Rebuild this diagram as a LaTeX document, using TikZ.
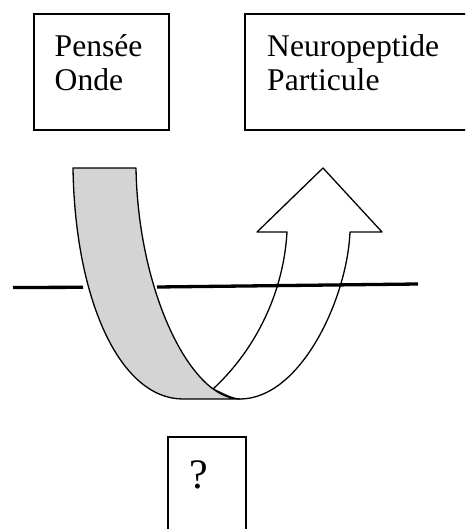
\documentclass[tikz,border=0pt]{standalone}
\usepackage{fontspec}
\setmainfont{Liberation Serif}
\definecolor{bandgray}{RGB}{212,212,212}
\tikzset{
  box/.style={draw=black, line width=1.8pt, fill=none},
  lbl/.style={inner sep=0pt, anchor=base west, font=\fontsize{31.6}{34}\selectfont},
  qlbl/.style={inner sep=0pt, anchor=base west, font=\fontsize{42}{46}\selectfont},
  ribbon/.style={draw=black, line width=1.3pt, line join=round},
  axis/.style={draw=black, line width=3.3pt}
}
\begin{document}
\begin{tikzpicture}[x=1pt,y=-1pt]
\useasboundingbox (0,0) rectangle (465,529);
\clip (0,0) rectangle (465,529);
% boxes
\draw[box] (34,14) rectangle (169,130);
\draw[box] (245,14) rectangle (472,130);
\draw[box] (168,437) rectangle (246,540);
% labels
\node[lbl] (p1) at (54.5,57) {Pensée};
\node[lbl] (p2) at (54.5,91) {Onde};
\node[lbl] (n1) at (267,57) {Neuropeptide};
\node[lbl] (n2) at (267,91) {Particule};
\node[qlbl] (q) at (189,488) {?};
% coordinates of the U-turn arrow
\coordinate (gtl) at (73,168);
\coordinate (gtr) at (136,168);
\coordinate (gbl) at (183,399);
\coordinate (gbr) at (240,399);
\coordinate (wj) at (213,389);
\coordinate (wsi) at (287,232);
\coordinate (wso) at (350,232);
\coordinate (hl) at (257,232);
\coordinate (hr) at (382,232);
\coordinate (tip) at (323,168);
% white arrow
\draw[ribbon, fill=white] (gbr) .. controls (300,399) and (347,300) .. (wso)
  -- (hr) -- (tip) -- (hl) -- (wsi)
  .. controls (283,300) and (250,355) .. (wj)
  .. controls (222,393) and (232,399) .. (gbr) -- cycle;
% horizontal line
\coordinate (a1) at (13,287.5);
\coordinate (a2) at (83,287.3);
\coordinate (a3) at (157,287);
\coordinate (a4) at (418,284);
\draw[axis] (a1) -- (a2);
\draw[axis] (a3) -- (a4);
% gray band
\draw[ribbon, fill=bandgray] (gtl) -- (gtr)
  .. controls (138,290) and (190,399) .. (gbr)
  -- (gbl)
  .. controls (120,399) and (75,300) .. (gtl) -- cycle;
\end{tikzpicture}
\end{document}
